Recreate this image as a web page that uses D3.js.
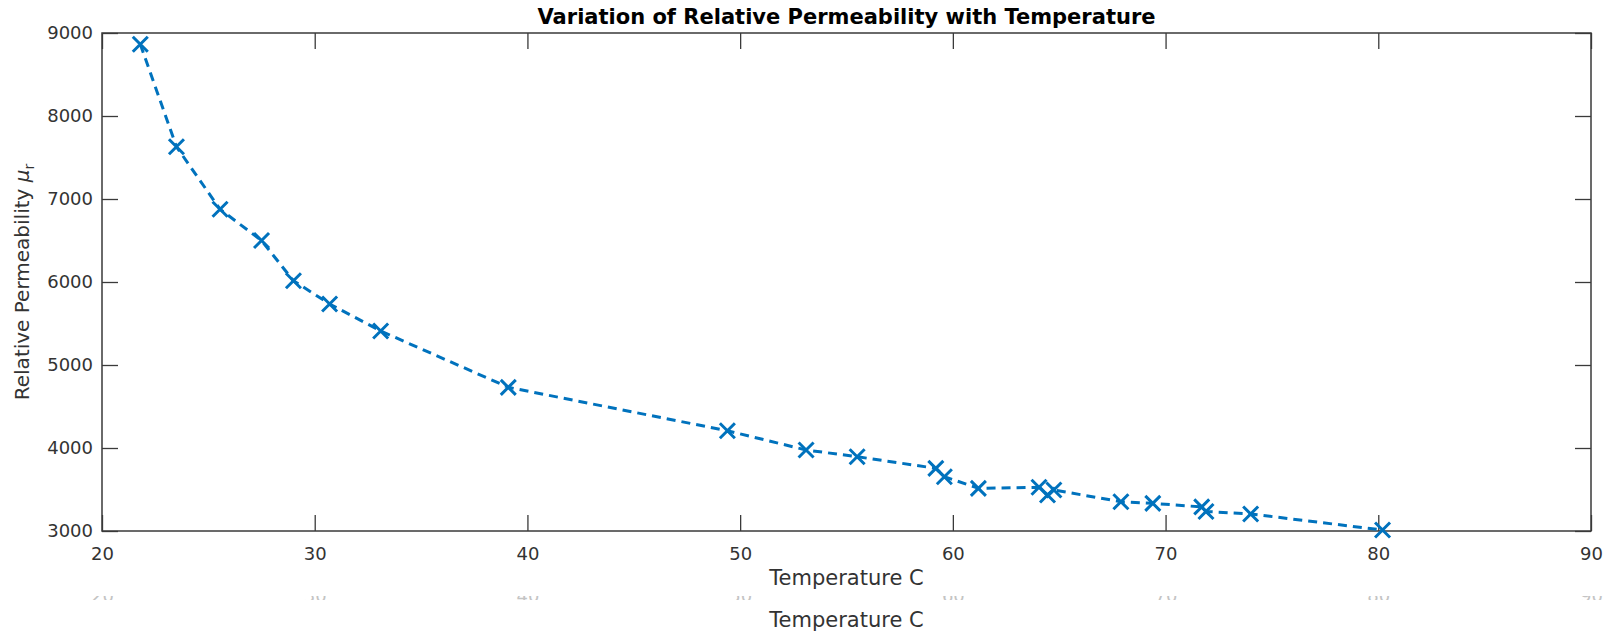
<!DOCTYPE html>
<html>
<head>
<meta charset="utf-8">
<script src="https://cdn.jsdelivr.net/npm/d3@7"></script>
<style>
body { margin: 0; background: #fff; }
text { font-family: "DejaVu Sans", sans-serif; }
</style>
</head>
<body>
<script>
var temps = [21.8, 23.5, 25.55, 27.5, 29.0, 30.7, 33.1, 39.1, 49.4, 53.1, 55.5, 59.2, 59.6, 61.2, 64.05, 64.45, 64.75, 67.9, 69.4, 71.7, 71.9, 74.0, 80.2];
var perms = [8865, 7630, 6876, 6500, 6015, 5735, 5410, 4731, 4208, 3976, 3895, 3755, 3654, 3514, 3527, 3434, 3494, 3353, 3333, 3290, 3235, 3205, 3012];
var xTicks = [20, 30, 40, 50, 60, 70, 80, 90];
var yTicks = [3000, 4000, 5000, 6000, 7000, 8000, 9000];

var width = 1612, height = 633;
var margin = {top: 33, right: 21, bottom: 102, left: 102};
var axisColor = "#3a3a3a";
var lineColor = "#0072BD";

var svg = d3.select("body").append("svg")
    .attr("width", width)
    .attr("height", height);

var x = d3.scaleLinear().domain([20, 90]).range([margin.left, width - margin.right]);
var y = d3.scaleLinear().domain([3000, 9000]).range([height - margin.bottom, margin.top]);

var data = temps.map(function(t, i) { return {t: t, p: perms[i]}; });

// ghost copy of the x axis labels (only a sliver shows)
svg.append("clipPath").attr("id", "ghost")
  .append("rect").attr("x", 0).attr("y", 596).attr("width", width).attr("height", 4);

var ghost = svg.append("g")
    .attr("clip-path", "url(#ghost)")
  .append("g")
    .attr("transform", "translate(0," + (y(3000) + 42) + ")")
    .call(d3.axisBottom(x).tickValues(xTicks).tickSize(0).tickPadding(16));
ghost.select(".domain").remove();
ghost.selectAll("text").attr("font-size", "18px").attr("fill", "#c4c4c4").style("font-family", "DejaVu Sans");

// axes
var gx = svg.append("g")
    .attr("transform", "translate(0," + y(3000) + ")")
    .call(d3.axisBottom(x).tickValues(xTicks).tickSize(-16).tickPadding(16));
var gxTop = svg.append("g")
    .attr("transform", "translate(0," + y(9000) + ")")
    .call(d3.axisTop(x).tickValues(xTicks).tickSize(-16).tickFormat(""));
var gy = svg.append("g")
    .attr("transform", "translate(" + x(20) + ",0)")
    .call(d3.axisLeft(y).tickValues(yTicks).tickSize(-16).tickPadding(9).tickFormat(d3.format("d")));
var gyRight = svg.append("g")
    .attr("transform", "translate(" + x(90) + ",0)")
    .call(d3.axisRight(y).tickValues(yTicks).tickSize(-16).tickFormat(""));

[gx, gxTop, gy, gyRight].forEach(function(g) {
  g.select(".domain").remove();
  g.selectAll("line").attr("stroke", axisColor).attr("stroke-width", 1.3);
  g.selectAll("text").attr("font-size", "18px").attr("fill", "#333").style("font-family", "DejaVu Sans");
});

svg.append("rect")
    .attr("x", x(20))
    .attr("y", y(9000))
    .attr("width", x(90) - x(20))
    .attr("height", y(3000) - y(9000))
    .attr("fill", "none")
    .attr("stroke", axisColor)
    .attr("stroke-width", 1.5);

// data line
var line = d3.line()
    .x(function(d) { return x(d.t); })
    .y(function(d) { return y(d.p); });

svg.append("path")
    .datum(data)
    .attr("d", line)
    .attr("fill", "none")
    .attr("stroke", lineColor)
    .attr("stroke-width", 3)
    .attr("stroke-dasharray", "9,6");

var s = 7.5;
svg.selectAll(".mark")
  .data(data)
  .enter().append("path")
  .attr("class", "mark")
  .attr("d", function(d) {
    var cx = x(d.t), cy = y(d.p);
    return "M" + (cx - s) + "," + (cy - s) + "L" + (cx + s) + "," + (cy + s) +
           "M" + (cx - s) + "," + (cy + s) + "L" + (cx + s) + "," + (cy - s);
  })
  .attr("stroke", lineColor)
  .attr("stroke-width", 3)
  .attr("fill", "none");

// title and labels
svg.append("text")
    .attr("x", (x(20) + x(90)) / 2)
    .attr("y", 24)
    .attr("text-anchor", "middle")
    .attr("font-size", "21px")
    .attr("font-weight", "bold")
    .attr("fill", "#000")
    .text("Variation of Relative Permeability with Temperature");

svg.append("text")
    .attr("x", (x(20) + x(90)) / 2)
    .attr("y", 585)
    .attr("text-anchor", "middle")
    .attr("font-size", "21px")
    .attr("fill", "#333")
    .text("Temperature C");

svg.append("text")
    .attr("x", (x(20) + x(90)) / 2)
    .attr("y", 627)
    .attr("text-anchor", "middle")
    .attr("font-size", "21px")
    .attr("fill", "#333")
    .text("Temperature C");

var yl = svg.append("text")
    .attr("transform", "translate(29," + ((y(3000) + y(9000)) / 2) + ") rotate(-90)")
    .attr("text-anchor", "middle")
    .attr("font-size", "20px")
    .attr("fill", "#333");
yl.append("tspan").text("Relative Permeability ");
yl.append("tspan").attr("font-style", "italic").text("\u03bc");
yl.append("tspan").attr("font-size", "14px").attr("dy", "5").text("r");
</script>
</body>
</html>
